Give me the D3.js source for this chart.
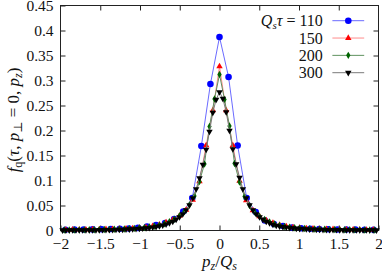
<!DOCTYPE html>
<html>
<head>
<meta charset="utf-8">
<script src="https://cdn.jsdelivr.net/npm/d3@7"></script>
<style>
  html, body { margin: 0; padding: 0; background: #fff; }
  svg { display: block; font-family: "Liberation Serif", "DejaVu Serif", serif; }
</style>
</head>
<body>
<div id="chart"></div>
<script>
// grid spacing in p_z/Q_s for each run (points are symmetric around 0)
const step110 = 0.114;
const step150 = 0.084;
const step200 = 0.063;
const step300 = 0.042;

// f_q values, from the leftmost point to the rightmost
const f110 = [0.0015, 0.0017, 0.002, 0.0022, 0.0025, 0.003, 0.0035, 0.004, 0.0052, 0.008, 0.011, 0.015, 0.023, 0.038, 0.065, 0.169, 0.293,
  0.387,
  0.307, 0.170, 0.065, 0.037, 0.020, 0.013, 0.009, 0.006, 0.0045, 0.0035, 0.003, 0.0025, 0.002, 0.002, 0.0018, 0.0015, 0.0013];

const f150 = [0.0013, 0.0014, 0.0016, 0.0017, 0.0019, 0.0021, 0.0024, 0.0027, 0.003, 0.0034, 0.004, 0.005, 0.0062, 0.0085, 0.0115, 0.016, 0.021, 0.029, 0.041, 0.061, 0.098, 0.17, 0.24,
  0.328,
  0.240, 0.170, 0.099, 0.060, 0.040, 0.028, 0.020, 0.015, 0.011, 0.008, 0.006, 0.005, 0.004, 0.0035, 0.003, 0.0027, 0.0024, 0.002, 0.0018, 0.0016, 0.0015, 0.0013, 0.0012];

const f200 = [0.001, 0.0011, 0.0011, 0.0012, 0.0013, 0.0014, 0.0016, 0.0018, 0.002, 0.0022, 0.0025, 0.0028, 0.0031, 0.0036, 0.0042, 0.0049, 0.0058, 0.007, 0.0085, 0.0105, 0.0135, 0.0175, 0.0225, 0.029, 0.038, 0.051, 0.069, 0.098, 0.133, 0.208, 0.263,
  0.312,
  0.262, 0.209, 0.134, 0.097, 0.068, 0.050, 0.037, 0.028, 0.022, 0.017, 0.013, 0.010, 0.008, 0.0065, 0.0055, 0.0047, 0.004, 0.0035, 0.003, 0.0027, 0.0024, 0.0021, 0.0019, 0.0017, 0.0015, 0.0014, 0.0013, 0.0012, 0.0011, 0.001, 0.001];

const f300 = [0.0006, 0.0006, 0.0007, 0.0007, 0.0007, 0.0008, 0.0008, 0.0009, 0.0009, 0.001, 0.001, 0.0011, 0.0012, 0.0013, 0.0014, 0.0015, 0.0017, 0.0018, 0.002, 0.0023, 0.0026, 0.0029, 0.0033, 0.0037, 0.0042, 0.0048, 0.0055, 0.0063, 0.0073, 0.0087, 0.0103, 0.0122, 0.015, 0.018, 0.022, 0.027, 0.033, 0.041, 0.051, 0.065, 0.083, 0.105, 0.132, 0.162, 0.198, 0.236, 0.262,
  0.277,
  0.264, 0.237, 0.200, 0.163, 0.133, 0.106, 0.083, 0.065, 0.051, 0.041, 0.033, 0.027, 0.022, 0.018, 0.015, 0.012, 0.010, 0.0085, 0.0072, 0.0062, 0.0054, 0.0047, 0.0041, 0.0036, 0.0032, 0.0028, 0.0025, 0.0022, 0.002, 0.0018, 0.0016, 0.0015, 0.0014, 0.0013, 0.0012, 0.0011, 0.001, 0.001, 0.0009, 0.0009, 0.0008, 0.0008, 0.0008, 0.0007, 0.0007, 0.0007, 0.0006];

const tauLabels = ["110", "150", "200", "300"];
const xTicks = [-2, -1.5, -1, -0.5, 0, 0.5, 1, 1.5, 2];
const yTicks = [0, 0.05, 0.1, 0.15, 0.2, 0.25, 0.3, 0.35, 0.4, 0.45];

const toPoints = (vals, step) => {
    const k0 = (vals.length - 1) / 2;
    return vals.map((v, i) => ({ p: (i - k0) * step, f: v }));
}

const series = [
    { label: tauLabels[0], pts: toPoints(f110, step110), color: "#0000ff", line: "#6b6bff", sym: d3.symbolCircle, size: 34, rot: 0 },
    { label: tauLabels[1], pts: toPoints(f150, step150), color: "#ff0000", line: "#ff8c8c", sym: d3.symbolTriangle, size: 18, rot: 0 },
    { label: tauLabels[2], pts: toPoints(f200, step200), color: "#006400", line: "#5f925f", sym: d3.symbolDiamond, size: 16, rot: 0 },
    { label: tauLabels[3], pts: toPoints(f300, step300), color: "#000000", line: "#7a7a7a", sym: d3.symbolTriangle, size: 18, rot: 180 }
];

const width = 382, height = 272;
const margin = { top: 5.5, right: 3.5, bottom: 41.5, left: 60.5 };

const svg = d3.select("#chart").append("svg")
    .attr("width", width)
    .attr("height", height);

const x = d3.scaleLinear().domain([-2, 2]).range([margin.left, width - margin.right]);
const y = d3.scaleLinear().domain([0, 0.45]).range([height - margin.bottom, margin.top]);

const tickLen = 5;
const fmt = d => d < 0 ? "\u2212" + Math.abs(d) : String(d);

// axes: ticks pointing inward, mirrored on top and right
svg.append("g")
    .attr("transform", `translate(0,${y(0)})`)
    .call(d3.axisBottom(x).tickValues(xTicks).tickSize(-tickLen).tickPadding(7.5).tickFormat(fmt))
    .call(g => g.select(".domain").remove());
svg.append("g")
    .attr("transform", `translate(0,${y(0.45)})`)
    .call(d3.axisTop(x).tickValues(xTicks.slice(1, -1)).tickSize(-tickLen).tickFormat(""))
    .call(g => g.select(".domain").remove());
svg.append("g")
    .attr("transform", `translate(${x(-2)},0)`)
    .call(d3.axisLeft(y).tickValues(yTicks).tickSize(-tickLen).tickPadding(7).tickFormat(d => String(d)))
    .call(g => g.select(".domain").remove());
svg.append("g")
    .attr("transform", `translate(${x(2)},0)`)
    .call(d3.axisRight(y).tickValues(yTicks.slice(1, -1)).tickSize(-tickLen).tickFormat(""))
    .call(g => g.select(".domain").remove());

svg.selectAll(".tick line").attr("stroke", "#222");
svg.selectAll(".tick text")
    .attr("fill", "#111")
    .style("font-size", "15.5px")
    .style("font-family", "'Liberation Serif', serif");

svg.append("rect")
    .attr("x", x(-2)).attr("y", y(0.45))
    .attr("width", x(2) - x(-2)).attr("height", y(0) - y(0.45))
    .attr("fill", "none").attr("stroke", "#222").attr("stroke-width", 1);

// curves
const line = d3.line().x(d => x(d.p)).y(d => y(d.f));
const plot = svg.append("g");

series.forEach(s => {
    plot.append("path")
        .datum(s.pts)
        .attr("d", line)
        .attr("fill", "none")
        .attr("stroke", s.line)
        .attr("stroke-width", 1);
    plot.append("g").selectAll("path")
        .data(s.pts)
        .join("path")
        .attr("d", d3.symbol(s.sym, s.size))
        .attr("transform", d => `translate(${x(d.p)},${y(d.f)}) rotate(${s.rot})`)
        .attr("fill", s.color);
});

// legend
const legX = x(1.3), lineX0 = x(1.42), lineX1 = x(1.82);
const legY = d3.scaleLinear().domain([0, 3]).range([y(0.4196), y(0.3156)]);
const leg = svg.append("g").style("font-size", "16px").attr("fill", "#111");

series.forEach((s, i) => {
    const t = leg.append("text")
        .attr("x", legX)
        .attr("y", legY(i) + 5.5)
        .attr("text-anchor", "end");
    if (i === 0) {
        t.append("tspan").style("font-style", "italic").text("Q");
        t.append("tspan").style("font-style", "italic").style("font-size", "11px").attr("dy", 3).text("s");
        t.append("tspan").style("font-style", "italic").attr("dy", -3).text("\u03C4");
        t.append("tspan").text(" = " + s.label);
    } else {
        t.text(s.label);
    }
    leg.append("line")
        .attr("x1", lineX0).attr("x2", lineX1)
        .attr("y1", legY(i)).attr("y2", legY(i))
        .attr("stroke", s.line).attr("stroke-width", 1);
    leg.append("path")
        .attr("d", d3.symbol(s.sym, s.size))
        .attr("transform", `translate(${(lineX0 + lineX1) / 2},${legY(i)}) rotate(${s.rot})`)
        .attr("fill", s.color);
});

// axis titles
const xt = svg.append("text")
    .attr("x", x(0))
    .attr("y", 267)
    .attr("text-anchor", "middle")
    .style("font-size", "17px")
    .attr("fill", "#111");
xt.append("tspan").style("font-style", "italic").text("p");
xt.append("tspan").style("font-style", "italic").style("font-size", "12px").attr("dy", 3).text("z");
xt.append("tspan").attr("dy", -3).text("/");
xt.append("tspan").style("font-style", "italic").text("Q");
xt.append("tspan").style("font-style", "italic").style("font-size", "12px").attr("dy", 3).text("s");

const yt = svg.append("text")
    .attr("transform", `translate(19,${(y(0) + y(0.45)) / 2 + 2}) rotate(-90)`)
    .attr("text-anchor", "middle")
    .style("font-size", "17px")
    .attr("fill", "#111");
yt.append("tspan").style("font-style", "italic").text("f");
yt.append("tspan").style("font-size", "12px").attr("dy", 3).text("q");
yt.append("tspan").attr("dy", -3).text("(");
yt.append("tspan").style("font-style", "italic").text("\u03C4");
yt.append("tspan").text(", ");
yt.append("tspan").style("font-style", "italic").text("p");
yt.append("tspan").style("font-size", "12px").attr("dy", 3).text("\u22A5");
yt.append("tspan").attr("dy", -3).text(" = 0, ");
yt.append("tspan").style("font-style", "italic").text("p");
yt.append("tspan").style("font-style", "italic").style("font-size", "12px").attr("dy", 3).text("z");
yt.append("tspan").attr("dy", -3).text(")");
</script>
</body>
</html>
